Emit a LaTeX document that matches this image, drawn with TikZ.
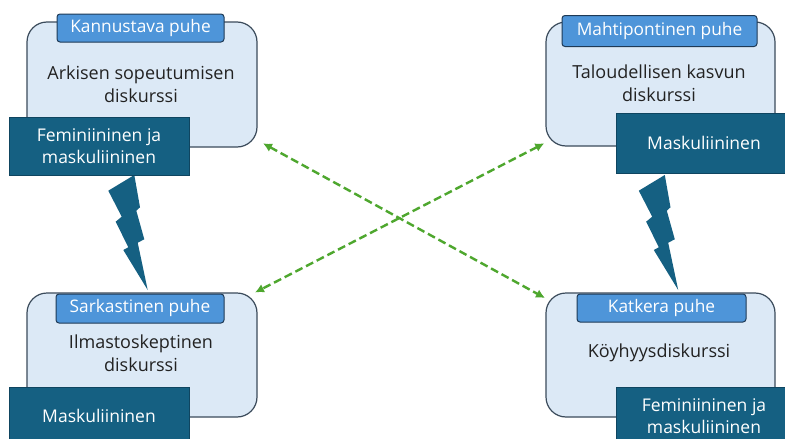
\documentclass[tikz,border=0pt]{standalone}
\usepackage{fontspec}
\setmainfont{Open Sans}
\usetikzlibrary{arrows.meta}
\definecolor{lightfill}{HTML}{DCE9F6}
\definecolor{boxline}{HTML}{3B4B5B}
\definecolor{tabfill}{HTML}{4E95D9}
\definecolor{tabline}{HTML}{1E3A56}
\definecolor{darkfill}{HTML}{156082}
\definecolor{darkline}{HTML}{0F4560}
\definecolor{arrowgreen}{HTML}{4EA72E}
\definecolor{bodytext}{HTML}{222222}
\begin{document}
\begin{tikzpicture}[x=1pt,y=-1pt,
  bigbox/.style={draw=boxline, line width=1.2pt, fill=lightfill, rounded corners=20pt, inner sep=0pt},
  tabbox/.style={draw=tabline, line width=1pt, fill=tabfill, rounded corners=3pt, inner sep=0pt, text=white, font=\fontsize{17.3}{19}\selectfont},
  darkbox/.style={draw=darkline, line width=1pt, fill=darkfill, inner sep=0pt, text=white, align=center, font=\fontsize{17.5}{22}\selectfont},
  bodylabel/.style={align=center, text=bodytext, font=\fontsize{18}{23}\selectfont, inner sep=0pt},
  link/.style={draw=arrowgreen, line width=2.4pt, dash pattern=on 8pt off 4pt, {Latex[length=9pt,width=9pt]}-{Latex[length=9pt,width=9pt]}},
  bolt/.pic={\fill[darkfill] (0,0) -- (5.7,32.3) -- (2,35.7) -- (10,64.3) -- (3.4,67.7) -- (13.4,115) -- (-11,75) -- (-6,72.3) -- (-18.6,46.7) -- (-12.6,41.7) -- (-26,15.7) -- cycle;}
]
\clip (0,0) rectangle (785,439);
\fill[white] (0,0) rectangle (785,439);

% top-left group
\node[bigbox, minimum width=230pt, minimum height=125pt] (tlbox) at (142,84.5) {};
\node[bodylabel] (tltext) at (141,84.5) {Arkisen sopeutumisen\\diskurssi};
\node[tabbox, minimum width=167pt, minimum height=28pt] (tltab) at (140.5,28) {Kannustava puhe};

% top-right group
\node[bigbox, minimum width=229pt, minimum height=124pt] (trbox) at (660.5,84) {};
\node[bodylabel] (trtext) at (659,83.5) {Taloudellisen kasvun\\diskurssi};
\node[tabbox, minimum width=195pt, minimum height=31pt] (trtab) at (659.5,31) {Mahtipontinen puhe};

% bottom-left group
\node[bigbox, minimum width=230pt, minimum height=124pt] (blbox) at (142,355) {};
\node[bodylabel] (bltext) at (141,353.5) {Ilmastoskeptinen\\diskurssi};
\node[tabbox, minimum width=168pt, minimum height=29pt] (bltab) at (140,308.5) {Sarkastinen puhe};

% bottom-right group
\node[bigbox, minimum width=229pt, minimum height=124pt] (brbox) at (660.5,355) {};
\node[bodylabel] (brtext) at (659,353) {Köyhyysdiskurssi};
\node[tabbox, minimum width=169pt, minimum height=28pt] (brtab) at (661.5,308) {Katkera puhe};

% lightning bolts
\pic at (134.3,175) {bolt};
\pic at (664.8,175) {bolt};

% dark boxes
\node[darkbox, minimum width=180pt, minimum height=58pt] (tldark) at (99,146) {Feminiininen ja\\maskuliininen};
\node[darkbox, minimum width=176pt, minimum height=60pt] (trdark) at (704,143) {Maskuliininen};
\node[darkbox, minimum width=180pt, minimum height=58pt] (bldark) at (99,416) {Maskuliininen};
\node[darkbox, minimum width=176pt, minimum height=58pt] (brdark) at (704,416) {Feminiininen ja\\maskuliininen};

% green dashed links
\coordinate (a1) at (263,143.3);
\coordinate (a2) at (545,298);
\coordinate (b1) at (544.3,143.3);
\coordinate (b2) at (255,292.5);
\draw[link] (a1) -- (a2);
\draw[link] (b1) -- (b2);
\end{tikzpicture}
\end{document}
